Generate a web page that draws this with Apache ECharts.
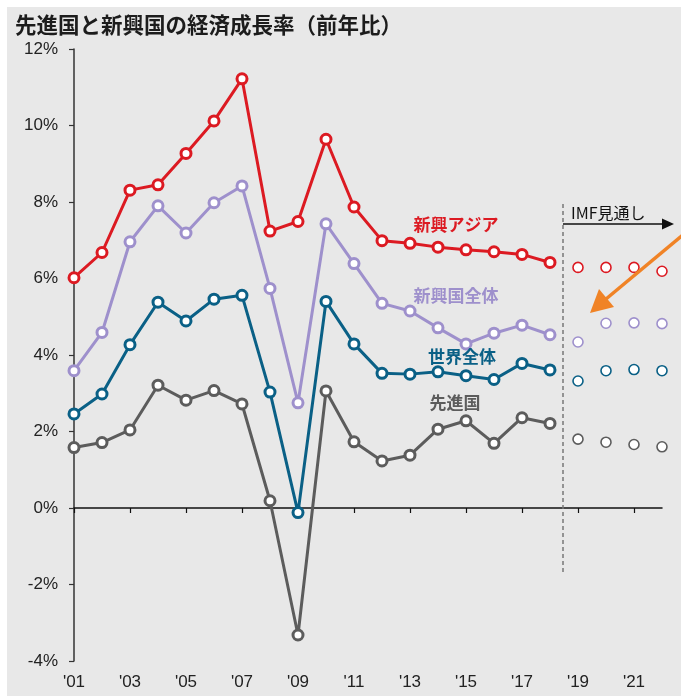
<!DOCTYPE html>
<html>
<head>
<meta charset="utf-8">
<script src="https://cdn.jsdelivr.net/npm/echarts@6/dist/echarts.min.js"></script>
<style>
  html, body { margin: 0; padding: 0; background: #fff; }
  #chart { width: 681px; height: 696px; }
</style>
</head>
<body>
<div id="chart"></div>
<script>
// 年ラベル（'01〜'22）
var years = ["'01","'02","'03","'04","'05","'06","'07","'08","'09","'10","'11",
             "'12","'13","'14","'15","'16","'17","'18","'19","'20","'21","'22"];
var yTicks = [-4, -2, 0, 2, 4, 6, 8, 10, 12];

// 実績 2001-2018
var asia     = [6.02,6.68,8.31,8.45,9.27,10.12,11.22,7.24,7.49,9.64,7.87,6.99,6.92,6.82,6.75,6.70,6.63,6.42];
var emerging = [3.59,4.59,6.96,7.90,7.19,7.98,8.42,5.74,2.75,7.43,6.39,5.35,5.15,4.71,4.29,4.57,4.78,4.53];
var world    = [2.46,2.98,4.27,5.38,4.89,5.46,5.56,3.03,-0.12,5.40,4.29,3.52,3.50,3.56,3.46,3.36,3.78,3.61];
var advanced = [1.58,1.71,2.04,3.21,2.82,3.07,2.72,0.19,-3.32,3.06,1.73,1.23,1.38,2.06,2.28,1.69,2.36,2.21];

// IMF見通し 2019-2022
var asiaF     = [6.29,6.29,6.29,6.19];
var emergingF = [4.34,4.83,4.84,4.82];
var worldF    = [3.32,3.59,3.62,3.59];
var advancedF = [1.80,1.72,1.66,1.60];

var colors = { asia: '#dc1a22', emerging: '#9e90cc', world: '#0a6086', advanced: '#5c5c5c' };

function actual(arr) { return arr.concat(['-','-','-','-']); }
function forecast(arr) {
  var pad = [];
  for (var i = 0; i < 18; i++) pad.push('-');
  return pad.concat(arr);
}

function mainSeries(name, data, color) {
  return {
    name: name, type: 'line', data: actual(data),
    symbol: 'circle', symbolSize: 10,
    lineStyle: { color: color, width: 3 },
    itemStyle: { color: '#fff', borderColor: color, borderWidth: 3 },
    z: 3
  };
}
function fcSeries(name, data, color) {
  return {
    name: name + '見通し', type: 'line', data: forecast(data),
    symbol: 'circle', symbolSize: 10, showSymbol: true,
    lineStyle: { width: 0, opacity: 0 },
    itemStyle: { color: '#fff', borderColor: color, borderWidth: 1.6 },
    z: 3
  };
}

var jp = '"Noto Sans CJK JP", sans-serif';
var num = '"Liberation Sans", Arial, sans-serif';

var chart = echarts.init(document.getElementById('chart'));

var option = {
  backgroundColor: '#fff',
  animation: false,
  title: {
    text: '先進国と新興国の経済成長率（前年比）',
    left: 10, top: 9,
    textStyle: { fontFamily: jp, fontSize: 21.5, fontWeight: 'bold', color: '#1c1c1c' }
  },
  grid: { left: 74, right: 19, top: 49, bottom: 35 },
  xAxis: [{
    type: 'category', data: years, boundaryGap: false,
    axisLine: { onZero: true, lineStyle: { color: '#111', width: 1.5 } },
    axisTick: { show: true, interval: 1, length: 5, lineStyle: { color: '#111', width: 1.2 } },
    axisLabel: { show: false },
    splitLine: { show: false }
  }, {
    type: 'category', data: years, boundaryGap: false, position: 'bottom',
    axisLine: { show: false, onZero: false },
    axisTick: { show: false },
    axisLabel: { interval: 1, fontFamily: num, fontSize: 17, color: '#222', margin: 13 },
    splitLine: { show: false }
  }],
  yAxis: {
    type: 'value', min: yTicks[0], max: yTicks[yTicks.length - 1], interval: 2,
    axisLine: { show: true, lineStyle: { color: '#333', width: 1.5 } },
    axisTick: { show: true, length: 5, lineStyle: { color: '#333', width: 1.2 } },
    axisLabel: { formatter: '{value}%', fontFamily: num, fontSize: 17, color: '#222', margin: 16 },
    splitLine: { show: false }
  },
  series: [
    mainSeries('先進国', advanced, colors.advanced),
    mainSeries('世界全体', world, colors.world),
    mainSeries('新興国全体', emerging, colors.emerging),
    mainSeries('新興アジア', asia, colors.asia),
    fcSeries('先進国', advancedF, colors.advanced),
    fcSeries('世界全体', worldF, colors.world),
    fcSeries('新興国全体', emergingF, colors.emerging),
    fcSeries('新興アジア', asiaF, colors.asia)
  ]
};
chart.setOption(option);

// 注記（背景・系列名・IMF見通し・矢印）
var x18 = chart.convertToPixel({ xAxisIndex: 0 }, 17);
var x19 = chart.convertToPixel({ xAxisIndex: 0 }, 18);
var xDiv = (x18 + x19) / 2 - 1;

function label(text, x, y, color) {
  return {
    type: 'text', x: x, y: y, z: 10,
    style: { text: text, fill: color, font: 'bold 17px ' + jp, textAlign: 'center', textVerticalAlign: 'middle' }
  };
}

chart.setOption({
  graphic: [
    { type: 'rect', shape: { x: 7, y: 7, width: 674, height: 689 }, style: { fill: '#e8e8e8' }, z: -100, silent: true },
    label('新興アジア', 456, 225, colors.asia),
    label('新興国全体', 456, 296, colors.emerging),
    label('世界全体', 462, 357, colors.world),
    label('先進国', 455, 403, colors.advanced),
    { type: 'line', shape: { x1: xDiv, y1: 204, x2: xDiv, y2: 573 },
      style: { stroke: '#777', lineWidth: 1.5, lineDash: [4, 3] }, z: 5 },
    { type: 'text', x: 571, y: 213, z: 10,
      style: { text: 'IMF見通し', fill: '#111', font: '16px ' + jp, textAlign: 'left', textVerticalAlign: 'middle' } },
    { type: 'line', shape: { x1: xDiv, y1: 224, x2: 664, y2: 224 },
      style: { stroke: '#111', lineWidth: 1.5 }, z: 5 },
    { type: 'polygon', shape: { points: [[674, 224], [662, 218.5], [662, 229.5]] },
      style: { fill: '#111' }, z: 5 },
    { type: 'line', shape: { x1: 684, y1: 234, x2: 606, y2: 299 },
      style: { stroke: '#f08326', lineWidth: 3.5 }, z: 6 },
    { type: 'polygon', shape: { points: [[590, 313], [614, 307], [599, 289]] },
      style: { fill: '#f08326' }, z: 6 }
  ]
});
</script>
</body>
</html>
